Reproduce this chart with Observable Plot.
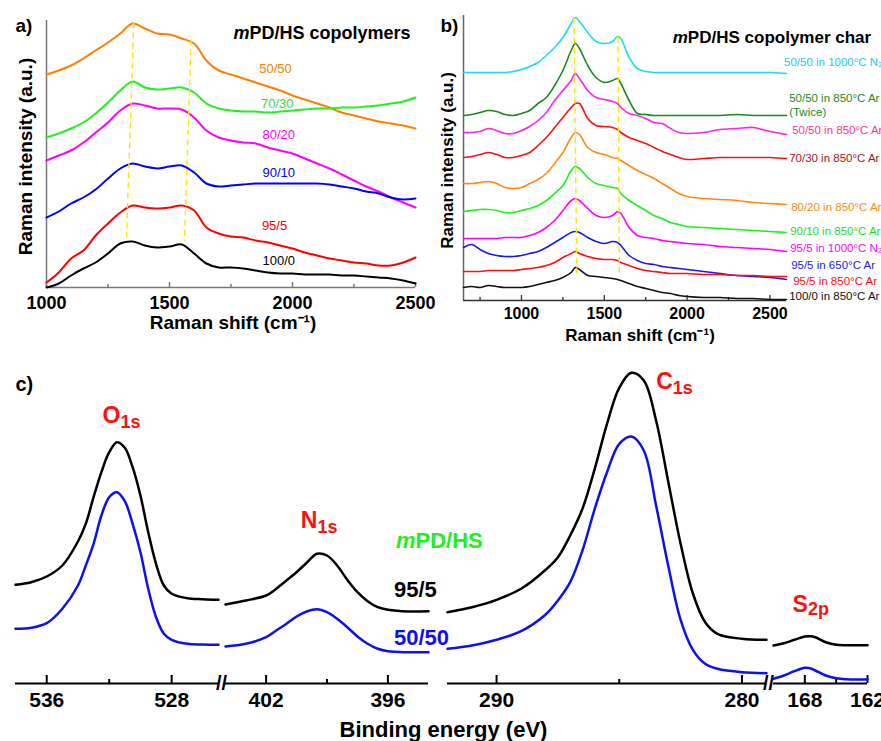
<!DOCTYPE html>
<html><head><meta charset="utf-8">
<script src="https://cdn.jsdelivr.net/npm/d3@7"></script>
<script src="https://cdn.jsdelivr.net/npm/@observablehq/plot@0.6"></script>
<style>
body{margin:0;background:#fff;}
#chart{position:relative;width:881px;height:741px;overflow:hidden;background:#fff;}
</style></head><body><div id="chart"></div>
<script>
// ---------- Panel a: Raman spectra of copolymers ----------
const aShift = [1000,1050,1100,1150,1200,1250,1300,1350,1400,1450,1500,1550,1600,1650,1700,1750,1800,1850,1900,1950,2000,2050,2100,2150,2200,2250,2300,2350,2400,2450,2500];
const aSeries = ["50/50","70/30","80/20","90/10","95/5","100/0"];
const a5050 = [213,217,222,229,237,245,254,264,259,254,253,249,244,227,217,213,209,205,201,197,192,188,184,180,175,172,169,166,164,162,159];
const a7030 = [150,154,159,165,174,185,197,206,200,198,199,200,195,184,179,177,176,176,175,176,177,178,179,179,180,180,181,182,184,186,190];
const a8020 = [127,132,137,145,155,165,177,184,182,179,179,178,170,157,150,147,145,144,140,137,134,129,124,119,113,107,101,96,90,85,80];
const a9010 = [70,76,84,90,98,109,119,124,121,119,121,122,115,104,101,102,103,104,104,104,104,104,104,103,101,99,96,94,90,88,89];
const a955 = [5,15,29,37,52,64,75,82,80,79,80,82,77,60,54,51,50,47,45,42,39,35,32,29,27,25,24,22,22,25,30];
const a1000 = [0,4,12,19,25,34,44,46,42,40,41,43,34,24,20,20,19,17,15,14,14,13,13,13,12,12,11,10,9,7,4];
const aValues = [a5050,a7030,a8020,a9010,a955,a1000];
const aLineColors = ["#ff8000","#22f022","#ff00ff","#0000ff","#ff0000","#000000"];
const aLabelColors = ["#ff8000","#33dd33","#ff00ff","#0000ff","#ff0000","#000000"];
const aLabelX = [1931,1938,1944,1944,1927,1944];
const aLabelY = [219,184,153,115,62,27];
const aMajor = [1000,1500,2000,2500];
const aMinor = [1250,1750,2250];
const aDashX1 = [1355,1588], aDashY1 = [265,248], aDashX2 = [1325,1561], aDashY2 = [50,46];

// ---------- Panel b: Raman spectra of chars ----------
const bShift = [650,700,750,800,850,900,950,1000,1050,1100,1150,1200,1250,1300,1325,1350,1400,1450,1500,1550,1580,1600,1650,1700,1750,1800,1850,1900,1950,2000,2100,2200,2300,2400,2500,2600];
const bSeries = ["50/50 in 1000°C N₂","50/50 in 850°C Ar (Twice)","50/50 in 850°C Ar","70/30 in 850°C Ar","80/20 in 850°C Ar","90/10 in 850°C Ar","95/5 in 1000°C N₂","95/5 in 650°C Ar","95/5 in 850°C Ar","100/0 in 850°C Ar"];
const b1 = [228,228,228,228,228,228,229,231,234,238,245,253,263,277,283,279,268,259,257,259,264,262,243,232,229,228,228,228,228,228,228,228,228,228,228,227];
const b2 = [185,186,188,190,189,186,185,187,190,197,203,215,230,250,257,252,235,223,218,220,222,217,200,187,186,185,185,185,185,185,185,185,186,185,185,185];
const b3 = [168,168,169,172,170,167,167,170,174,180,188,200,210,220,227,222,210,203,201,199,197,193,187,185,182,178,177,172,168,167,168,171,172,173,169,166];
const b4 = [143,144,146,148,146,143,143,145,148,155,163,173,183,193,197,197,182,175,174,173,171,168,163,160,157,153,149,146,143,141,142,143,143,143,143,142];
const b5 = [117,117,118,119,117,113,112,113,117,121,127,137,148,163,168,166,153,148,146,143,142,140,135,130,126,122,117,112,107,104,102,101,100,98,97,96];
const b6 = [89,90,91,91,90,88,88,90,92,95,100,107,115,130,134,132,123,117,115,113,112,107,100,95,90,85,82,78,76,74,73,72,71,70,69,68];
const b7 = [62,62,62,62,62,63,63,63,65,68,73,80,90,100,102,100,92,85,83,85,89,87,73,65,63,62,60,59,58,57,56,54,53,52,51,49];
const b8 = [53,56,51,47,45,44,44,45,47,49,53,58,63,68,69,68,63,59,57,59,58,55,45,40,37,36,34,33,32,31,29,27,25,24,23,21];
const b9 = [29,29,29,30,30,30,30,31,32,33,35,38,43,47,49,47,44,42,41,41,40,38,35,32,30,29,28,27,27,27,26,26,25,25,24,24];
const b10 = [13,14,13,15,14,13,13,13,14,16,18,20,23,28,33,31,25,24,23,22,21,20,17,14,12,10,8,7,5,4,3,3,2,2,1,1];
const bValues = [b1,b2,b3,b4,b5,b6,b7,b8,b9,b10];
const bLineColors = ["#1edcf0","#1a8a1a","#ff22ee","#ff1010","#ff8a10","#22ee22","#ff00ff","#1a1aee","#ff1010","#111111"];
const bLabelText = ["50/50 in 1000°C N₂","50/50 in 850°C Ar","(Twice)","50/50 in 850°C Ar","70/30 in 850°C Ar","80/20 in 850°C Ar","90/10 in 850°C Ar","95/5 in 1000°C N₂","95/5 in 650°C Ar","95/5 in 850°C Ar","100/0 in 850°C Ar"];
const bLabelColors = ["#22c8f0","#228b22","#228b22","#ff3399","#a01818","#ff8a10","#22dd22","#ff00ff","#2222ee","#ff1010","#111111"];
const bLabelX = [2585,2616,2616,2634,2616,2628,2622,2622,2628,2640,2616];
const bLabelY = [238,202,188,170,142,93,69,52,35,19,4];
const bMajor = [1000,1500,2000,2500];
const bMinor = [750,1250,1750,2250];
const bDashX1 = [1317,1583], bDashY1 = [283,264], bDashX2 = [1334,1591], bDashY2 = [27,25];

// ---------- Panel c: XPS spectra ----------
const cSeriesNames = ["95/5","50/50"];
const cSeriesColors = ["#000000","#1010ee"];
const cO_eV = [538,537,536,535,534,533.5,533,532.5,532,531.5,531,530.5,530,529.5,529,528.5,528,527,526,525];
const cO_95 = [98.7,101.3,107,118,142,159.7,186.3,211.3,231.3,241.3,235.7,216.3,188,151.3,119.7,98,89.7,85.3,84.3,83.7];
const cO_50 = [54.7,55.7,60.3,74.7,98,118,139.7,168,186.3,191.3,182.3,159.7,131.3,94.7,66.3,49.7,43.7,39.7,39,38.7];
const cN_eV = [404,403,402,401.5,401,400.5,400,399.5,399,398.5,398,397.5,397,396.5,396,395,394];
const cN_95 = [79,83,88,94.7,103,111.3,120.7,129.7,128,118,103.7,91.3,82.3,76.3,73.7,72,72.3];
const cN_50 = [37,39.7,46.3,53,59.7,67,72,74.3,71.3,64.7,56.3,47,39.7,34.7,32.3,31.3,31.3];
const cC_eV = [292,291,290,289,288,287.5,287,286.5,286,285.5,285,284.5,284,283.5,283,282.5,282,281.5,281,280,279];
const cC_95 = [71.3,76.3,83.7,94.7,113.7,126.3,148,174.7,214.7,259.7,295.7,310.7,303,263,201.3,139.7,90,61.3,49.7,44.7,43.7];
const cC_50 = [34.7,38,43.7,52.3,69,83,101.3,133,174.7,211.3,239.7,247,233,178,117.3,63.7,33.7,19.7,14.7,11.3,10.3];
const cS_eV = [171,170,169,168,167.5,167,166,165,164,163,162];
const cS_95 = [38,40.3,43.7,47,47.3,46.3,41.3,38.7,38.3,38.3,38.3];
const cS_50 = [4.7,8,12.3,15.7,15.3,13,8,5.3,4.3,4,4];
const cPeakMain = ["O","N","C","S"];
const cPeakSub = ["1s","1s","1s","2p"];
const cPeakX = [531.28,399.47,282.82,167.7];
const cPeakY = [268,163,302,79];

// ---------- helpers ----------
const FONT = "'Liberation Sans', Arial, Helvetica, sans-serif";
const st = (l, t) => `position:absolute;left:${l}px;top:${t}px;overflow:visible;background:transparent;font-family:${FONT};`;
const chart = document.getElementById("chart");

// ---------- Plot a ----------
const aRows = aSeries.flatMap((s, i) => aShift.map((x, j) => ({s, x, y: aValues[i][j], c: aLineColors[i]})));
const aLabels = aSeries.map((t, i) => ({t, x: aLabelX[i], y: aLabelY[i], c: aLabelColors[i]}));
const aDash = aDashX1.map((d, i) => ({x1: d, y1: aDashY1[i], x2: aDashX2[i], y2: aDashY2[i]}));
const plotA = Plot.plot({
  width: 440, height: 340, marginLeft: 46, marginRight: 25, marginTop: 20, marginBottom: 53,
  x: {domain: [1000, 2500], label: null},
  y: {domain: [0, 267], axis: null},
  color: {type: "identity"},
  style: st(0, 0),
  marks: [
    Plot.ruleX([1000], {stroke: "#777", strokeWidth: 1.5}),
    Plot.ruleY([0], {stroke: "#777", strokeWidth: 1.5}),
    Plot.axisX({ticks: aMajor, tickSize: -5, tickFormat: () => "", stroke: "#777", strokeWidth: 1.5, label: null}),
    Plot.axisX({ticks: aMinor, tickSize: -3, tickFormat: () => "", stroke: "#777", strokeWidth: 1.5, label: null}),
    Plot.axisX({ticks: aMajor, tickSize: 0, tickPadding: 9, tickFormat: "d", fontSize: 18, fontWeight: "bold", fill: "#000", label: null}),
    Plot.line(aRows, {x: "x", y: "y", z: "s", stroke: "c", strokeWidth: 2, curve: "catmull-rom"}),
    Plot.link(aDash, {x1: "x1", y1: "y1", x2: "x2", y2: "y2", stroke: "#ffe600", strokeWidth: 1.4, strokeDasharray: "6,4"}),
    Plot.text(aLabels, {x: "x", y: "y", text: "t", fill: "c", fontSize: 13}),
    Plot.text(["m"], {x: () => 1760, y: () => 254, text: d => d, textAnchor: "start", fontSize: 18, fontWeight: "bold", fontStyle: "italic"}),
    Plot.text(["PD/HS copolymers"], {x: () => 1760, y: () => 254, text: d => d, dx: 16, textAnchor: "start", fontSize: 18, fontWeight: "bold"}),
    Plot.text(["a)"], {frameAnchor: "top-left", text: d => d, dx: -31, dy: 5, textAnchor: "start", lineAnchor: "middle", fontSize: 19, fontWeight: "bold"}),
    Plot.text(["Raman shift (cm⁻¹)"], {frameAnchor: "bottom", text: d => d, dx: 2, dy: 35, textAnchor: "middle", lineAnchor: "middle", fontSize: 19, fontWeight: "bold"}),
    Plot.text(["Raman intensity (a.u.)"], {frameAnchor: "left", text: d => d, rotate: -90, dx: -21, dy: 2.5, textAnchor: "middle", lineAnchor: "middle", fontSize: 19, fontWeight: "bold"})
  ]
});
chart.appendChild(plotA);

// ---------- Plot b ----------
const bRows = bSeries.flatMap((s, i) => bShift.map((x, j) => ({s, x, y: bValues[i][j], c: bLineColors[i]})));
const bLabels = bLabelText.map((t, i) => ({t, x: bLabelX[i], y: bLabelY[i], c: bLabelColors[i]}));
const bDash = bDashX1.map((d, i) => ({x1: d, y1: bDashY1[i], x2: bDashX2[i], y2: bDashY2[i]}));
const plotB = Plot.plot({
  width: 441, height: 345, marginLeft: 23, marginRight: 95, marginTop: 15, marginBottom: 45,
  x: {domain: [650, 2600], label: null},
  y: {domain: [0, 285], axis: null},
  color: {type: "identity"},
  style: st(440, 0),
  marks: [
    Plot.ruleX([650], {stroke: "#666", strokeWidth: 1.5}),
    Plot.ruleY([0], {stroke: "#333", strokeWidth: 1.5}),
    Plot.axisX({ticks: bMajor, tickSize: -5, tickFormat: () => "", stroke: "#333", strokeWidth: 1.3, label: null}),
    Plot.axisX({ticks: bMinor, tickSize: -3, tickFormat: () => "", stroke: "#333", strokeWidth: 1.3, label: null}),
    Plot.axisX({ticks: bMajor, tickSize: 0, tickPadding: 7, tickFormat: "d", fontSize: 16, fontWeight: "bold", fill: "#000", label: null}),
    Plot.line(bRows, {x: "x", y: "y", z: "s", stroke: "c", strokeWidth: 1.6, curve: "catmull-rom"}),
    Plot.link(bDash, {x1: "x1", y1: "y1", x2: "x2", y2: "y2", stroke: "#ffe600", strokeWidth: 1.4, strokeDasharray: "6,4"}),
    Plot.text(bLabels, {x: "x", y: "y", text: "t", fill: "c", fontSize: 11.5, textAnchor: "start"}),
    Plot.text(["m"], {x: () => 1914, y: () => 263, text: d => d, textAnchor: "start", fontSize: 17, fontWeight: "bold", fontStyle: "italic"}),
    Plot.text(["PD/HS copolymer char"], {x: () => 1914, y: () => 263, text: d => d, dx: 15, textAnchor: "start", fontSize: 17, fontWeight: "bold"}),
    Plot.text(["b)"], {frameAnchor: "top-left", text: d => d, dx: -23, dy: 10, textAnchor: "start", lineAnchor: "middle", fontSize: 19, fontWeight: "bold"}),
    Plot.text(["Raman shift (cm⁻¹)"], {frameAnchor: "bottom", text: d => d, dx: 15, dy: 35, textAnchor: "middle", lineAnchor: "middle", fontSize: 17, fontWeight: "bold"}),
    Plot.text(["Raman intensity (a.u.)"], {frameAnchor: "left", text: d => d, rotate: -90, dx: -16, dy: 2.5, textAnchor: "middle", lineAnchor: "middle", fontSize: 17, fontWeight: "bold"})
  ]
});
chart.appendChild(plotB);

// ---------- Plot c (broken axis: four segments) ----------
const cSegs = [
  {left: 0, width: 220, ml: 15, mr: 2, domain: [538, 525], major: [536, 528], minor: [532], eV: cO_eV, vals: [cO_95, cO_50]},
  {left: 220, width: 215, ml: 5, mr: 7, domain: [404, 394], major: [402, 396], minor: [399], eV: cN_eV, vals: [cN_95, cN_50]},
  {left: 435, width: 335, ml: 12, mr: 4, domain: [292, 279], major: [290, 280], minor: [285], eV: cC_eV, vals: [cC_95, cC_50]},
  {left: 770, width: 111, ml: 3, mr: 14, domain: [171, 162], major: [168, 162], minor: [165], eV: cS_eV, vals: [cS_95, cS_50]}
];
cSegs.forEach((seg, k) => {
  const rows = cSeriesNames.flatMap((s, i) => seg.eV.map((x, j) => ({s, x, y: seg.vals[i][j], c: cSeriesColors[i]})));
  const peak = [{m: cPeakMain[k], sub: cPeakSub[k], x: cPeakX[k], y: cPeakY[k]}];
  const extra = [];
  if (k === 0) {
    extra.push(Plot.text(["c)"], {frameAnchor: "top-left", text: d => d, dy: 24, textAnchor: "start", lineAnchor: "middle", fontSize: 20, fontWeight: "bold"}));
    extra.push(Plot.text(["//"], {frameAnchor: "bottom-right", text: d => d, dx: 3, textAnchor: "middle", lineAnchor: "middle", fontSize: 20, fontWeight: "bold"}));
  }
  if (k === 1) {
    extra.push(Plot.text(["m"], {x: () => 395.6, y: () => 143, text: d => d, textAnchor: "start", fill: "#22ee22", fontSize: 22, fontWeight: "bold", fontStyle: "italic"}));
    extra.push(Plot.text(["PD/HS"], {x: () => 395.6, y: () => 143, text: d => d, dx: 19.5, textAnchor: "start", fill: "#22ee22", fontSize: 22, fontWeight: "bold"}));
    extra.push(Plot.text(cSeriesNames, {x: () => 395.7, y: (d, i) => [94, 46][i], text: d => d, fill: (d, i) => cSeriesColors[i], textAnchor: "start", fontSize: 22, fontWeight: "bold"}));
  }
  if (k === 2) {
    extra.push(Plot.text(["Binding energy (eV)"], {frameAnchor: "bottom-left", text: d => d, dx: -4, dy: 46, textAnchor: "middle", lineAnchor: "middle", fontSize: 22, fontWeight: "bold"}));
    extra.push(Plot.text(["//"], {frameAnchor: "bottom-right", text: d => d, dx: 2, textAnchor: "middle", lineAnchor: "middle", fontSize: 20, fontWeight: "bold"}));
  }
  const p = Plot.plot({
    width: seg.width, height: 381, marginLeft: seg.ml, marginRight: seg.mr, marginTop: 0, marginBottom: 58,
    x: {domain: seg.domain, label: null},
    y: {domain: [0, 323], axis: null},
    color: {type: "identity"},
    style: st(seg.left, 360),
    marks: [
      Plot.ruleY([0], {stroke: "#000", strokeWidth: 2}),
      Plot.axisX({ticks: seg.major, tickSize: -8, tickFormat: () => "", stroke: "#000", strokeWidth: 2, label: null}),
      Plot.axisX({ticks: seg.minor, tickSize: -4, tickFormat: () => "", stroke: "#000", strokeWidth: 2, label: null}),
      Plot.axisX({ticks: seg.major, tickSize: 0, tickPadding: 9, tickFormat: "d", fontSize: 21, fontWeight: "bold", fill: "#000", label: null}),
      Plot.line(rows, {x: "x", y: "y", z: "s", stroke: "c", strokeWidth: 2.5, curve: "catmull-rom"}),
      Plot.text(peak, {x: "x", y: "y", text: "m", textAnchor: "end", fill: "#ff1010", fontSize: 23, fontWeight: "bold"}),
      Plot.text(peak, {x: "x", y: "y", text: "sub", textAnchor: "start", dy: k === 3 ? 5 : 7, fill: "#ff1010", fontSize: 18, fontWeight: "bold"}),
      ...extra
    ]
  });
  chart.appendChild(p);
});
</script></body></html>
